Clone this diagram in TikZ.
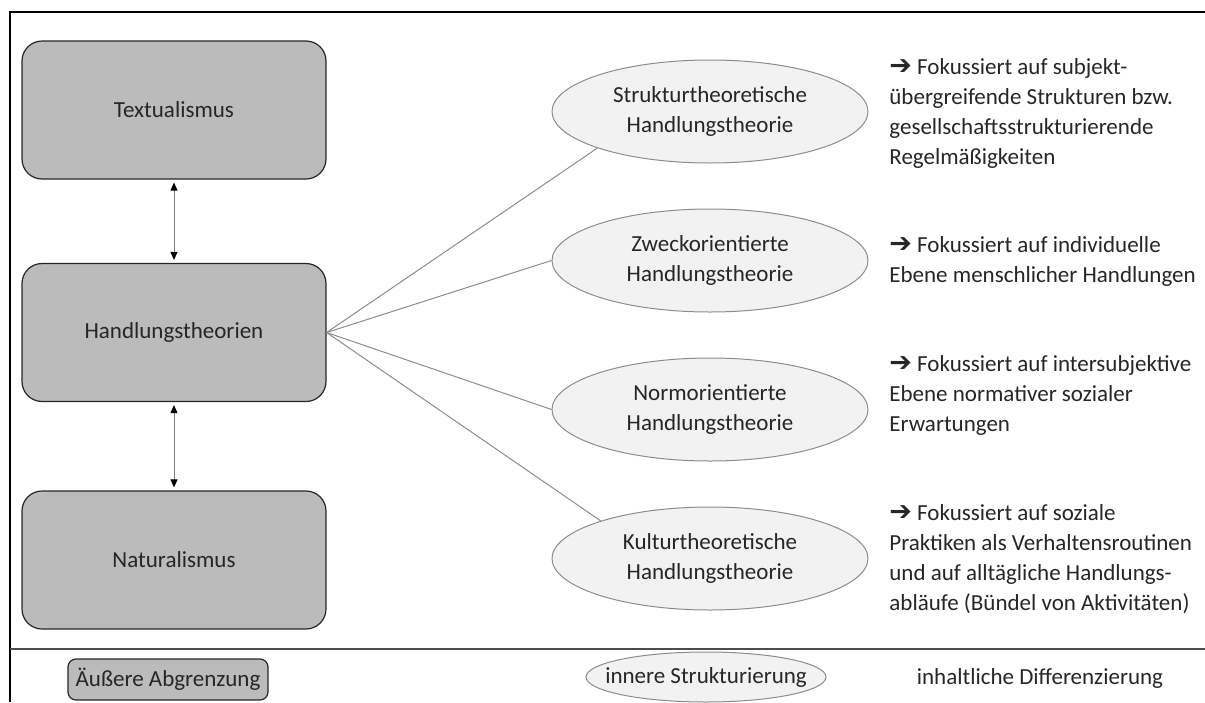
\documentclass[tikz,border=0pt]{standalone}
\usepackage{fontspec}
\setmainfont{Carlito}
\newfontfamily\symfont{DejaVu Sans}
\usetikzlibrary{shapes.geometric,arrows.meta}
\definecolor{boxgray}{HTML}{BBBBBB}
\definecolor{ellfill}{HTML}{F2F2F2}
\definecolor{ellline}{HTML}{8C8C8C}
\definecolor{txt}{HTML}{262626}
\newcommand\myarr{{\symfont\fontsize{13.5}{12}\selectfont ➔}}
\begin{document}
\begin{tikzpicture}[x=0.5pt,y=-0.5pt,
  every node/.style={font=\fontsize{11.5}{14.85}\selectfont, text=txt},
  mainbox/.style={draw=black!85, line width=0.6pt, fill=boxgray, rounded corners=10pt,
    minimum width=152pt, minimum height=69pt, inner sep=0pt},
  theory/.style={ellipse, draw=ellline, line width=0.5pt, fill=ellfill,
    minimum width=158pt, minimum height=51.5pt, inner sep=0pt, align=center},
  desc/.style={align=left, inner sep=0pt, anchor=base west},
  conn/.style={draw=ellline, line width=0.5pt},
  dbl/.style={draw=black!50, line width=0.5pt,
    arrows={Triangle[width=3.5pt,length=4pt,color=black]-Triangle[width=3.5pt,length=4pt,color=black]}},
  frame/.style={draw=black, line width=0.65pt},
  divider/.style={draw=black!70, line width=0.55pt},
  legbox/.style={draw=black!85, line width=0.6pt, fill=boxgray, rounded corners=4pt,
    minimum width=100pt, minimum height=20.5pt, inner sep=0pt},
  legell/.style={ellipse, draw=ellline, line width=0.5pt, fill=ellfill,
    minimum width=120pt, minimum height=25pt, inner xsep=-8pt, inner ysep=0pt}
]
\useasboundingbox (0,0) rectangle (1205,702);

% frame
\coordinate (tl) at (10,12);
\coordinate (tr) at (1205,12);
\coordinate (bl) at (10,702);
\coordinate (dl) at (10,649);
\coordinate (dr) at (1205,649);
\draw[frame] (tr) -- (tl) -- (bl);
\draw[divider] (dl) -- (dr);

% main boxes
\node[mainbox] (T) at (174,110) {Textualismus};
\node[mainbox] (H) at (174,332.5) {Handlungstheorien};
\node[mainbox] (N) at (174,560) {Naturalismus};

\draw[dbl] ([yshift=-1.5pt]T.south) -- ([yshift=1.5pt]H.north);
\draw[dbl] ([yshift=-1.5pt]H.south) -- ([yshift=1.5pt]N.north);

% theories
\node[theory] (E1) at (710,111.5) {Strukturtheoretische\\Handlungstheorie};
\node[theory] (E2) at (710,260.5) {Zweckorientierte\\Handlungstheorie};
\node[theory] (E3) at (710,409.5) {Normorientierte\\Handlungstheorie};
\node[theory] (E4) at (710,558.5) {Kulturtheoretische\\Handlungstheorie};

\draw[conn] (H.east) -- (E1.198.4);
\draw[conn] (H.east) -- (E2.west);
\draw[conn] (H.east) -- (E3.west);
\draw[conn] (H.east) -- (E4.161.6);

% descriptions (base anchor = baseline of the last line)
\node[desc] (D1) at (889,164) {\myarr{} Fokussiert auf subjekt-\\übergreifende Strukturen bzw.\\gesellschaftsstrukturierende\\Regelmäßigkeiten};
\node[desc] (D2) at (889,282) {\myarr{} Fokussiert auf individuelle\\Ebene menschlicher Handlungen};
\node[desc] (D3) at (889,431) {\myarr{} Fokussiert auf intersubjektive\\Ebene normativer sozialer\\Erwartungen};
\node[desc] (D4) at (889,610) {\myarr{} Fokussiert auf soziale\\Praktiken als Verhaltensroutinen\\und auf alltägliche Handlungs-\\abläufe (Bündel von Aktivitäten)};

% legend
\node[legbox] (L1) at (168,679.5) {Äußere Abgrenzung};
\node[legell] (L2) at (706,677) {innere Strukturierung};
\node (L3) at (1040,678) {inhaltliche Differenzierung};
\end{tikzpicture}
\end{document}
